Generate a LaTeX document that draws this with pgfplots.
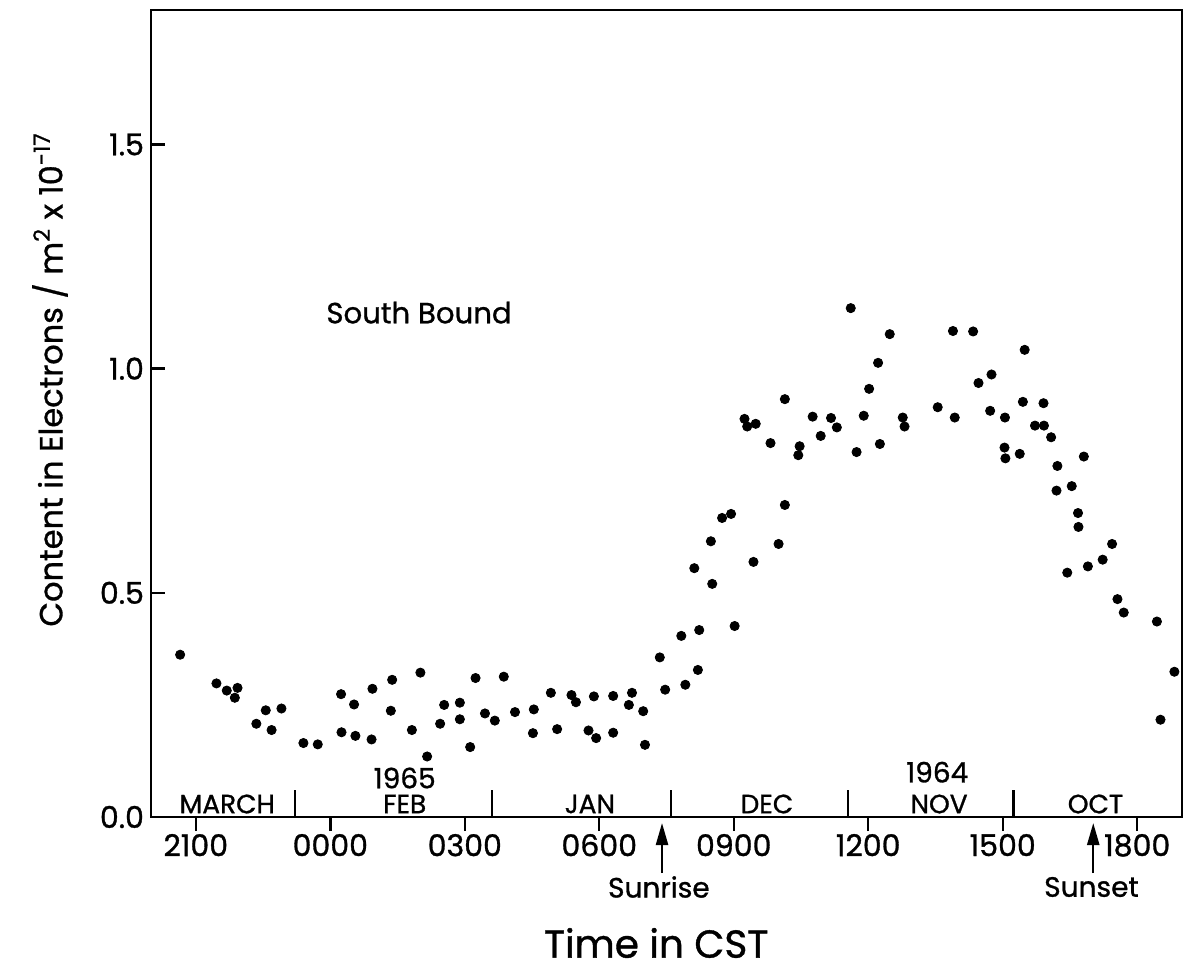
\documentclass[border=0pt]{standalone}
\usepackage{pgfplots}
\pgfplotsset{compat=1.18}
\usepackage{fontspec}
\setmainfont{Poppins}[FakeBold=1]
\usetikzlibrary{arrows.meta}
\pgfplotstableread{
x y
20.65 0.362
21.46 0.298
21.69 0.282
21.93 0.288
21.87 0.266
22.56 0.238
22.91 0.242
22.35 0.208
22.69 0.194
23.40 0.165
23.72 0.162
24.24 0.274
24.53 0.251
24.25 0.189
24.56 0.181
24.94 0.286
24.92 0.173
25.38 0.306
25.35 0.237
25.82 0.194
26.01 0.322
26.16 0.135
26.54 0.250
26.89 0.255
26.45 0.208
26.89 0.218
27.24 0.310
27.12 0.156
27.45 0.231
27.67 0.215
27.87 0.313
28.12 0.234
28.54 0.240
28.52 0.187
28.92 0.277
29.06 0.196
29.38 0.272
29.48 0.256
29.76 0.193
29.93 0.176
29.88 0.269
30.31 0.270
30.31 0.188
30.73 0.277
30.66 0.250
30.98 0.236
31.02 0.161
31.35 0.356
31.47 0.284
31.83 0.404
32.23 0.417
31.92 0.295
32.20 0.328
33.02 0.426
32.12 0.555
32.52 0.520
32.49 0.615
32.74 0.667
32.94 0.676
33.44 0.569
34.00 0.609
34.14 0.696
33.24 0.888
33.30 0.871
33.49 0.877
33.82 0.834
34.14 0.932
34.47 0.827
34.44 0.807
34.76 0.893
34.94 0.850
35.17 0.890
35.30 0.869
35.74 0.814
35.90 0.895
36.02 0.955
35.61 1.135
36.48 1.077
36.22 1.013
36.26 0.832
36.77 0.891
36.81 0.871
37.55 0.914
37.93 0.891
37.89 1.084
38.34 1.083
39.49 1.042
38.46 0.968
38.75 0.987
38.72 0.906
39.05 0.891
39.45 0.926
39.91 0.923
39.72 0.873
39.92 0.873
40.08 0.847
39.04 0.824
39.06 0.800
39.38 0.810
40.22 0.783
40.81 0.804
40.20 0.728
40.54 0.738
40.68 0.678
40.69 0.647
41.44 0.609
41.23 0.574
40.90 0.559
40.44 0.545
41.56 0.486
41.70 0.456
42.44 0.436
42.83 0.324
42.52 0.217
}\southbound
\begin{document}
\begin{tikzpicture}
\begin{axis}[
  scale only axis, width=515.5pt, height=403.5pt,
  xmin=20, xmax=43, ymin=0, ymax=1.8,
  axis line style={line width=1.4pt},
  xtick={21,24,27,30,33,36,39,42},
  xticklabels={2100,0000,0300,0600,0900,1200,1500,1800},
  ytick={0,0.5,1,1.5}, yticklabels={0.0,0.5,1.0,1.5},
  xtick align=outside, ytick align=inside,
  tick pos=left,
  major tick length=7pt,
  tick style={line width=1.2pt, black},
  tick label style={font=\fontsize{15}{18}\selectfont},
  xticklabel style={yshift=2pt},
  xlabel={Time in CST},
  ylabel={Content in Electrons / m\textsuperscript{2} x 10\textsuperscript{-17}},
  xlabel style={font=\fontsize{19.5}{23}\selectfont, at={([yshift=-63pt]axis description cs:0.49,0)}, anchor=center},
  ylabel style={font=\fontsize{16}{19}\selectfont, at={([xshift=-50.5pt,yshift=17pt]axis description cs:0,0.5)}, anchor=center},
  clip=false,
]
\addplot[only marks, mark=*, mark size=2.3pt, black] table[x=x, y=y] {\southbound};
\draw[line width=1.2pt] (axis cs:23.21,0) -- (axis cs:23.21,0.06);
\draw[line width=1.2pt] (axis cs:27.61,0) -- (axis cs:27.61,0.06);
\draw[line width=1.2pt] (axis cs:31.60,0) -- (axis cs:31.60,0.06);
\draw[line width=1.2pt] (axis cs:35.55,0) -- (axis cs:35.55,0.06);
\draw[line width=1.2pt] (axis cs:39.24,0) -- (axis cs:39.24,0.06);
\node[font=\fontsize{13.2}{15}\selectfont] at (axis cs:21.70,0.029) {MARCH};
\node[font=\fontsize{13.2}{15}\selectfont] at (axis cs:25.66,0.029) {FEB};
\node[font=\fontsize{13.2}{15}\selectfont] at (axis cs:29.79,0.029) {JAN};
\node[font=\fontsize{13.2}{15}\selectfont] at (axis cs:33.74,0.029) {DEC};
\node[font=\fontsize{13.2}{15}\selectfont] at (axis cs:37.58,0.029) {NOV};
\node[font=\fontsize{13.2}{15}\selectfont] at (axis cs:41.07,0.029) {OCT};
\node[font=\fontsize{14}{16}\selectfont] at (axis cs:25.66,0.087) {1965};
\node[font=\fontsize{14}{16}\selectfont] at (axis cs:37.54,0.100) {1964};
\node[font=\fontsize{14.6}{17}\selectfont] at (axis cs:25.98,1.125) {South Bound};
\draw[line width=1.2pt,-{Triangle[width=6pt,length=11pt]}] ([yshift=-28pt]axis cs:31.40,0) -- ([yshift=-3pt]axis cs:31.40,0);
\node[font=\fontsize{14}{16}\selectfont] at ([yshift=-35pt]axis cs:31.33,0) {Sunrise};
\draw[line width=1.2pt,-{Triangle[width=6pt,length=11pt]}] ([yshift=-28pt]axis cs:41.02,0) -- ([yshift=-3pt]axis cs:41.02,0);
\node[font=\fontsize{14}{16}\selectfont] at ([yshift=-35pt]axis cs:40.98,0) {Sunset};
\end{axis}
\pgfresetboundingbox
\path ([shift={(-75.5pt,-78.5pt)}]current axis.south west) rectangle ([shift={(2pt,5pt)}]current axis.north east);
\end{tikzpicture}
\end{document}
